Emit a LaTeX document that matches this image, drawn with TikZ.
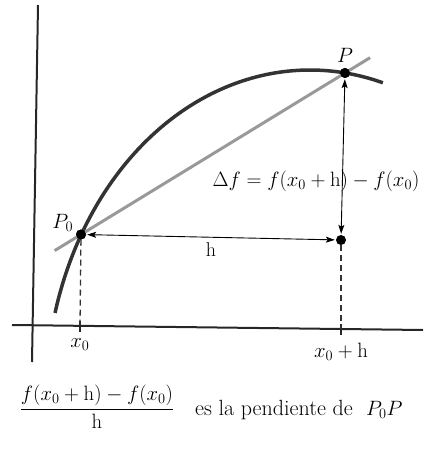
\documentclass[tikz,border=0pt]{standalone}
\usepackage{amsmath}
\usetikzlibrary{arrows,arrows.meta,positioning,calc}
\tikzset{
    %Define standard arrow tip
    >={Stealth[length=9pt,width=6pt,inset=2pt]},
    %Define style for points
    punto/.style={
           circle,
           fill=black,
           inner sep=0pt,
           minimum size=10pt},
    ejes/.style={line width=2pt, black!85},
    curva/.style={line width=3.5pt, black!80},
    secante/.style={line width=3pt, black!40},
    % Define arrow style
    flecha/.style={
           <->,
           line width=0.9pt,
           shorten <=1pt,
           shorten >=1pt},
    guia/.style={line width=1.3pt, black!80, dash pattern=on 6pt off 4pt},
    etiq/.style={font=\fontsize{20}{24}\selectfont, inner sep=1pt}
}
\begin{document}
\begin{tikzpicture}[x=1pt,y=-1pt]
\useasboundingbox (0,0) rectangle (423,452);

% ejes
\coordinate (yarriba) at (38,5);
\coordinate (yabajo) at (32,362);
\coordinate (xizq) at (12,325);
\coordinate (xder) at (423,330);
\coordinate (x0) at (80,326);
\coordinate (xh) at (341,329);
\draw[ejes] (yabajo) -- (yarriba);
\draw[ejes] (xizq) -- (xder);
\draw[ejes] ($(x0)+(0,-5)$) -- ($(x0)+(0,6)$);
\draw[ejes] ($(xh)+(0,-5)$) -- ($(xh)+(0,6)$);

% curva
\draw[curva] plot[domain=164.7:74, samples=90, smooth]
    ({310+264.35*cos(\x)}, {400-330*sin(\x)});

\node[punto](P0) at (81,234.5){};
\node[punto](P) at (345,73){};
\node[punto](Q) at (341,240){};

% secante
\draw[secante] ($(P0)!-0.1!(P)$) -- ($(P0)!1.095!(P)$);
\node[punto] at (P0){};
\node[punto] at (P){};

\node[etiq, above left=-2pt and 3pt of P0](lP0){$P_0$};
\node[etiq, above=4pt of P](lP){$P$};
\node[etiq, below=11pt of x0](lx0){$x_0$};
\node[etiq, below=13pt of xh](lxh){$x_0 + \mathrm{h}$};
\node[etiq](df) at (316,181){$\Delta f = f(x_0 + \mathrm{h}) - f(x_0)$};

\path[flecha]
    (P) edge (Q)
    (P0) edge node[etiq, below=4pt] {h} (Q);
\path[guia]
    (P0) edge (x0)
    (Q) edge (xh);

% pendiente
\node[etiq, font=\fontsize{22.5}{26}\selectfont](frac) at (97,407){$\dfrac{f(x_0 + \mathrm{h}) - f(x_0)}{\mathrm{h}}$};
\node[etiq, font=\fontsize{22}{26}\selectfont, anchor=west](txt) at (194,410){es la pendiente de\ \ $P_0P$};

\end{tikzpicture}
\end{document}
